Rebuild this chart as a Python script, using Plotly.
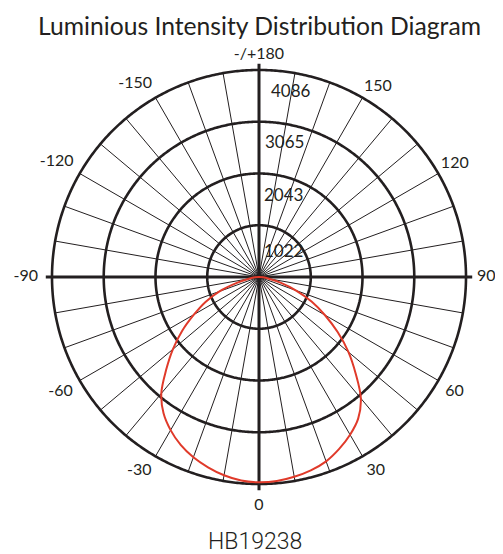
import numpy as np
import plotly.graph_objects as go

# ---------------- data ----------------
ring_values = [1022, 2043, 3065, 4086]
angle_tick_vals = [0, 30, 60, 90, 120, 150, 180, 210, 240, 270, 300, 330]
angle_tick_text = ["0", "30", "60", "90", "120", "150", "-/+180",
                   "-150", "-120", "-90", "-60", "-30"]
spoke_angles = list(range(0, 360, 10))
axis_angles = [0, 90, 180, 270]

curve_angles = [-90, -85, -80, -75, -70, -65, -60, -55, -50, -45, -40, -35,
                -30, -25, -20, -15, -10, -5, 0, 5, 10, 15, 20, 25, 30, 35,
                40, 45, 50, 55, 60, 65, 70, 75, 80, 85, 90]
curve_intensity = [0, 80, 200, 452, 830, 1165, 1480, 1850, 2220, 2592, 3000,
                   3285, 3490, 3658, 3788, 3889, 3974, 4033, 4053, 4043, 4005,
                   3952, 3873, 3745, 3595, 3413, 3128, 2700, 2306, 1895, 1500,
                   1145, 780, 450, 200, 80, 0]

title_text = "Luminious Intensity Distribution Diagram"
model_text = "HB19238"

# ---------------- layout constants ----------------
OFF = 8                    # page body margin in the browser
W, H = 503 - OFF, 554 - OFF
CX, CY = 259 - OFF, 277 - OFF   # centre of the diagram in figure px
R_OUTER = 207              # px radius of the outer ring
RANGE_K = 1.12             # radial range relative to outer ring (room for labels)
CROSS_K = 1.03             # main axes extend slightly past outer ring
RMAX = ring_values[-1] * RANGE_K
R_PLOT = R_OUTER * RANGE_K
INK = "#231f20"
FONT = "Lato, 'Open Sans', sans-serif"

# label anchor radius (px) for each text anchoring side
LABEL_R_PX = {"bottom center": 221, "top center": 214, "middle right": 218,
              "middle left": 221, "bottom right": 215, "bottom left": 215,
              "top right": 210, "top left": 214}

fig = go.Figure()

# spokes every 10 degrees
sr, st = [], []
for a in spoke_angles:
    sr += [0, ring_values[-1], None]
    st += [a, a, None]
fig.add_trace(go.Scatterpolar(r=sr, theta=st, mode="lines",
                              line=dict(color=INK, width=1),
                              hoverinfo="skip", showlegend=False))

# rings
th = np.linspace(0, 360, 721)
for v in ring_values:
    fig.add_trace(go.Scatterpolar(r=[v] * len(th), theta=th, mode="lines",
                                  line=dict(color=INK, width=2.6),
                                  hoverinfo="skip", showlegend=False))

# main cross
cr, ct = [], []
for a in axis_angles:
    cr += [0, ring_values[-1] * CROSS_K, None]
    ct += [a, a, None]
fig.add_trace(go.Scatterpolar(r=cr, theta=ct, mode="lines",
                              line=dict(color=INK, width=3),
                              hoverinfo="skip", showlegend=False))

# intensity curve
fig.add_trace(go.Scatterpolar(r=curve_intensity, theta=curve_angles,
                              mode="lines",
                              line=dict(color="#e03a2a", width=2, shape="spline"),
                              showlegend=False))


# angle labels, anchored on their inner side
def anchor_for(a):
    a = a % 360
    if a == 0:
        return "bottom center"
    if a == 180:
        return "top center"
    if a == 90:
        return "middle right"
    if a == 270:
        return "middle left"
    if 0 < a < 90:
        return "bottom right"
    if 90 < a < 180:
        return "top right"
    if 180 < a < 270:
        return "top left"
    return "bottom left"


anchors = [anchor_for(a) for a in angle_tick_vals]
fig.add_trace(go.Scatterpolar(
    r=[ring_values[-1] * LABEL_R_PX[p] / R_OUTER for p in anchors],
    theta=angle_tick_vals, text=angle_tick_text, mode="text",
    textposition=anchors,
    textfont=dict(family=FONT, size=16, color=INK),
    cliponaxis=False, hoverinfo="skip", showlegend=False))

x0 = (CX - R_PLOT) / W
x1 = (CX + R_PLOT) / W
y0 = 1 - (CY + R_PLOT) / H
y1 = 1 - (CY - R_PLOT) / H

fig.update_layout(
    width=W, height=H,
    margin=dict(l=0, r=0, t=0, b=0),
    paper_bgcolor="white",
    plot_bgcolor="white",
    showlegend=False,
    polar=dict(
        domain=dict(x=[x0, x1], y=[y0, y1]),
        bgcolor="white",
        radialaxis=dict(range=[0, RMAX], visible=False, showgrid=False),
        angularaxis=dict(
            rotation=270, direction="counterclockwise",
            showgrid=False, showline=False, ticks="", showticklabels=False,
        ),
    ),
)

# radial value labels
label_left_px = [262, 262, 263, 269]
label_offset_px = [25, 21, 20, 20]
for v, lx, off in zip(ring_values, label_left_px, label_offset_px):
    ypx = CY - v / ring_values[-1] * R_OUTER + off
    fig.add_annotation(text=str(v), x=(lx - OFF) / W, y=1 - ypx / H,
                       xref="paper", yref="paper", xanchor="left", yanchor="middle",
                       showarrow=False, font=dict(family=FONT, size=17, color=INK))

fig.add_annotation(text=title_text, x=CX / W, y=1 - (25 - OFF) / H,
                   xref="paper", yref="paper",
                   xanchor="center", yanchor="middle", showarrow=False,
                   font=dict(family=FONT, size=24.7, color=INK))
fig.add_annotation(text=model_text, x=(255 - OFF) / W, y=1 - (541 - OFF) / H,
                   xref="paper", yref="paper",
                   xanchor="center", yanchor="middle", showarrow=False,
                   font=dict(family="Roboto, sans-serif", size=23, color=INK, weight=300))

fig.write_html("out.html")
